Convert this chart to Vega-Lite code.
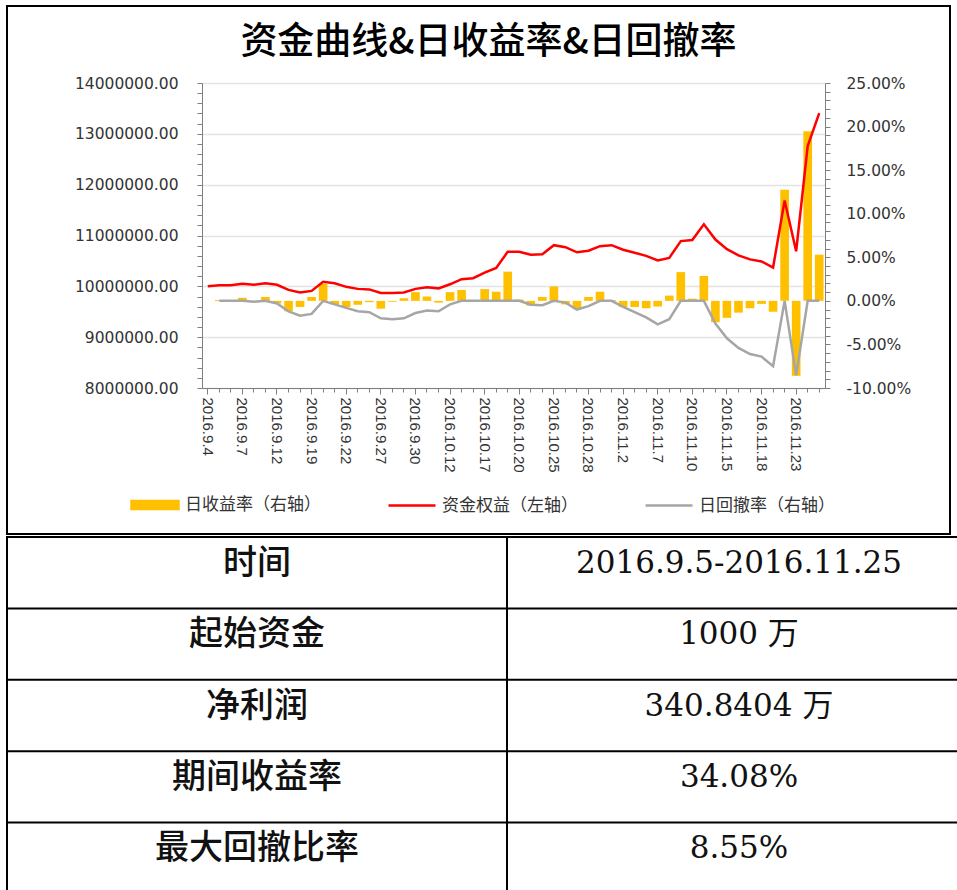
{
  "$schema": "https://vega.github.io/schema/vega-lite/v6.json",
  "padding": {"left": 5, "top": 5, "right": 0, "bottom": 0},
  "spacing": 0,
  "background": "white",
  "config": {"view": {"stroke": null}, "font": "Liberation Sans"},
  "vconcat": [
    {
      "width": 943,
      "height": 528,
      "view": {"stroke": "#000", "strokeWidth": 2},
      "title": {"text": "资金曲线&日收益率&日回撤率", "font": "Noto Sans CJK SC", "fontSize": 37, "fontWeight": 500, "color": "#000", "anchor": "middle", "frame": "group", "baseline": "middle", "offset": -74, "dx": 10},
      "data": {"values": [
        {"date": "2016.9.4", "equity": 10000000, "ret": null, "dd": null},
        {"date": "2016.9.5", "equity": 10020000, "ret": 0.10, "dd": 0},
        {"date": "2016.9.6", "equity": 10020000, "ret": 0.05, "dd": 0},
        {"date": "2016.9.7", "equity": 10050000, "ret": 0.35, "dd": 0},
        {"date": "2016.9.8", "equity": 10030000, "ret": -0.10, "dd": -0.1},
        {"date": "2016.9.9", "equity": 10060000, "ret": 0.45, "dd": 0},
        {"date": "2016.9.12", "equity": 10030000, "ret": -0.30, "dd": -0.3},
        {"date": "2016.9.13", "equity": 9930000, "ret": -1.20, "dd": -1.2},
        {"date": "2016.9.14", "equity": 9880000, "ret": -0.70, "dd": -1.7},
        {"date": "2016.9.19", "equity": 9910000, "ret": 0.45, "dd": -1.5},
        {"date": "2016.9.20", "equity": 10090000, "ret": 1.95, "dd": 0},
        {"date": "2016.9.21", "equity": 10060000, "ret": -0.40, "dd": -0.4},
        {"date": "2016.9.22", "equity": 9990000, "ret": -0.70, "dd": -0.8},
        {"date": "2016.9.23", "equity": 9950000, "ret": -0.45, "dd": -1.2},
        {"date": "2016.9.26", "equity": 9940000, "ret": -0.15, "dd": -1.3},
        {"date": "2016.9.27", "equity": 9870000, "ret": -0.90, "dd": -2.0},
        {"date": "2016.9.28", "equity": 9870000, "ret": -0.10, "dd": -2.1},
        {"date": "2016.9.29", "equity": 9880000, "ret": 0.30, "dd": -2.0},
        {"date": "2016.9.30", "equity": 9950000, "ret": 1.00, "dd": -1.4},
        {"date": "2016.10.10", "equity": 9980000, "ret": 0.50, "dd": -1.1},
        {"date": "2016.10.11", "equity": 9960000, "ret": -0.20, "dd": -1.2},
        {"date": "2016.10.12", "equity": 10040000, "ret": 1.00, "dd": -0.4},
        {"date": "2016.10.13", "equity": 10140000, "ret": 1.25, "dd": 0},
        {"date": "2016.10.14", "equity": 10160000, "ret": 0.05, "dd": 0},
        {"date": "2016.10.17", "equity": 10270000, "ret": 1.35, "dd": 0},
        {"date": "2016.10.18", "equity": 10360000, "ret": 1.05, "dd": 0},
        {"date": "2016.10.19", "equity": 10680000, "ret": 3.35, "dd": 0},
        {"date": "2016.10.20", "equity": 10680000, "ret": 0.15, "dd": 0},
        {"date": "2016.10.21", "equity": 10620000, "ret": -0.55, "dd": -0.45},
        {"date": "2016.10.24", "equity": 10630000, "ret": 0.45, "dd": -0.5},
        {"date": "2016.10.25", "equity": 10810000, "ret": 1.65, "dd": 0},
        {"date": "2016.10.26", "equity": 10770000, "ret": -0.40, "dd": -0.2},
        {"date": "2016.10.27", "equity": 10670000, "ret": -0.95, "dd": -1.0},
        {"date": "2016.10.28", "equity": 10700000, "ret": 0.45, "dd": -0.6},
        {"date": "2016.10.31", "equity": 10790000, "ret": 1.05, "dd": 0},
        {"date": "2016.11.1", "equity": 10810000, "ret": 0.10, "dd": 0},
        {"date": "2016.11.2", "equity": 10720000, "ret": -0.70, "dd": -0.7},
        {"date": "2016.11.3", "equity": 10660000, "ret": -0.70, "dd": -1.3},
        {"date": "2016.11.4", "equity": 10600000, "ret": -0.85, "dd": -1.9},
        {"date": "2016.11.7", "equity": 10510000, "ret": -0.65, "dd": -2.7},
        {"date": "2016.11.8", "equity": 10560000, "ret": 0.60, "dd": -2.1},
        {"date": "2016.11.9", "equity": 10890000, "ret": 3.30, "dd": 0},
        {"date": "2016.11.10", "equity": 10910000, "ret": 0.25, "dd": 0},
        {"date": "2016.11.11", "equity": 11220000, "ret": 2.85, "dd": 0},
        {"date": "2016.11.14", "equity": 10920000, "ret": -2.45, "dd": -2.6},
        {"date": "2016.11.15", "equity": 10730000, "ret": -1.95, "dd": -4.3},
        {"date": "2016.11.16", "equity": 10610000, "ret": -1.35, "dd": -5.4},
        {"date": "2016.11.17", "equity": 10530000, "ret": -0.85, "dd": -6.1},
        {"date": "2016.11.18", "equity": 10490000, "ret": -0.35, "dd": -6.4},
        {"date": "2016.11.21", "equity": 10370000, "ret": -1.25, "dd": -7.5},
        {"date": "2016.11.22", "equity": 11690000, "ret": 12.75, "dd": 0},
        {"date": "2016.11.23", "equity": 10690000, "ret": -8.60, "dd": -8.55},
        {"date": "2016.11.24", "equity": 12760000, "ret": 19.45, "dd": 0},
        {"date": "2016.11.25", "equity": 13408404, "ret": 5.30, "dd": 0}
      ]},
      "encoding": {
        "x": {
          "field": "date", "type": "ordinal", "sort": null,
          "scale": {
            "domain": ["2016.9.4","2016.9.5","2016.9.6","2016.9.7","2016.9.8","2016.9.9","2016.9.12","2016.9.13","2016.9.14","2016.9.19","2016.9.20","2016.9.21","2016.9.22","2016.9.23","2016.9.26","2016.9.27","2016.9.28","2016.9.29","2016.9.30","2016.10.10","2016.10.11","2016.10.12","2016.10.13","2016.10.14","2016.10.17","2016.10.18","2016.10.19","2016.10.20","2016.10.21","2016.10.24","2016.10.25","2016.10.26","2016.10.27","2016.10.28","2016.10.31","2016.11.1","2016.11.2","2016.11.3","2016.11.4","2016.11.7","2016.11.8","2016.11.9","2016.11.10","2016.11.11","2016.11.14","2016.11.15","2016.11.16","2016.11.17","2016.11.18","2016.11.21","2016.11.22","2016.11.23","2016.11.24","2016.11.25"],
            "range": [195, 818], "paddingInner": 0.25, "paddingOuter": 0.125
          },
          "axis": {
            "orient": "bottom", "offset": -146, "title": null, "grid": false,
            "labelAngle": 90, "labelPadding": 3, "labelOverlap": false, "labelBound": false,
            "labelFont": "Liberation Sans", "labelFontSize": 15, "labelColor": "#333",
            "labelExpr": "indexof(['2016.9.4','2016.9.7','2016.9.12','2016.9.19','2016.9.22','2016.9.27','2016.9.30','2016.10.12','2016.10.17','2016.10.20','2016.10.25','2016.10.28','2016.11.2','2016.11.7','2016.11.10','2016.11.15','2016.11.18','2016.11.23'], datum.value) >= 0 ? datum.value : ''",
            "tickSize": {"condition": {"test": "indexof(['2016.9.4','2016.9.7','2016.9.12','2016.9.19','2016.9.22','2016.9.27','2016.9.30','2016.10.12','2016.10.17','2016.10.20','2016.10.25','2016.10.28','2016.11.2','2016.11.7','2016.11.10','2016.11.15','2016.11.18','2016.11.23'], datum.value) >= 0", "value": 6}, "value": 4},
            "tickColor": "#7f7f7f", "domainColor": "#7f7f7f"
          }
        }
      },
      "layer": [
        {
          "layer": [
            {
              "mark": {"type": "bar"},
              "encoding": {
                "y": {
                  "field": "ret", "type": "quantitative",
                  "scale": {"domain": [-10, 25], "range": [382, 77], "nice": false, "zero": false},
                  "axis": {
                    "orient": "right", "offset": -125, "title": null, "grid": false,
                    "values": [-10,-9,-8,-7,-6,-5,-4,-3,-2,-1,0,1,2,3,4,5,6,7,8,9,10,11,12,13,14,15,16,17,18,19,20,21,22,23,24,25],
                    "labelExpr": "datum.value % 5 === 0 ? (datum.value < 0 ? '-' : '') + format(abs(datum.value), '.2f') + '%' : ''",
                    "labelOverlap": false, "labelFlush": false, "labelPadding": 16,
                    "labelFont": "DejaVu Sans", "labelFontSize": 15.5, "labelColor": "#333",
                    "tickSize": 5, "tickColor": "#7f7f7f", "domainColor": "#7f7f7f"
                  }
                },
                "color": {
                  "datum": "日收益率（右轴）",
                  "scale": {"domain": ["日收益率（右轴）", "资金权益（左轴）", "日回撤率（右轴）"], "range": ["#FFC000", "#FF0000", "#A6A6A6"]},
                  "legend": {
                    "orient": "none", "legendX": 123, "legendY": 474, "direction": "horizontal", "title": null,
                    "labelFont": "Noto Sans CJK SC", "labelFontSize": 17, "labelColor": "#333",
                    "symbolSize": 2209, "columnPadding": 62, "labelOffset": 5,
                    "encode": {"symbols": {"update": {
                      "shape": {"signal": "datum.value === '日收益率（右轴）' ? 'M-1,-0.17L1,-0.17L1,0.17L-1,0.17Z' : 'M-1,0L1,0'"},
                      "fill": {"signal": "datum.value === '日收益率（右轴）' ? '#FFC000' : 'transparent'"},
                      "stroke": {"signal": "datum.value === '资金权益（左轴）' ? '#FF0000' : (datum.value === '日回撤率（右轴）' ? '#A6A6A6' : 'transparent')"},
                      "strokeWidth": {"value": 2.5},
                      "opacity": {"value": 1}
                    }}}
                  }
                }
              }
            },
            {
              "mark": {"type": "line", "strokeWidth": 2.5},
              "encoding": {
                "y": {
                  "field": "dd", "type": "quantitative",
                  "scale": {"domain": [-10, 25], "range": [382, 77], "nice": false, "zero": false},
                  "axis": {
                    "orient": "right", "offset": -125, "title": null, "grid": false,
                    "values": [-10,-9,-8,-7,-6,-5,-4,-3,-2,-1,0,1,2,3,4,5,6,7,8,9,10,11,12,13,14,15,16,17,18,19,20,21,22,23,24,25],
                    "labelExpr": "datum.value % 5 === 0 ? (datum.value < 0 ? '-' : '') + format(abs(datum.value), '.2f') + '%' : ''",
                    "labelOverlap": false, "labelFlush": false, "labelPadding": 16,
                    "labelFont": "DejaVu Sans", "labelFontSize": 15.5, "labelColor": "#333",
                    "tickSize": 5, "tickColor": "#7f7f7f", "domainColor": "#7f7f7f"
                  }
                },
                "color": {"datum": "日回撤率（右轴）"}
              }
            }
          ]
        },
        {
          "mark": {"type": "line", "strokeWidth": 2.5},
          "encoding": {
            "y": {
              "field": "equity", "type": "quantitative",
              "scale": {"domain": [8000000, 14000000], "range": [382, 77], "nice": false, "zero": false},
              "axis": {
                "orient": "left", "offset": -195, "title": null,
                "values": [8000000,8200000,8400000,8600000,8800000,9000000,9200000,9400000,9600000,9800000,10000000,10200000,10400000,10600000,10800000,11000000,11200000,11400000,11600000,11800000,12000000,12200000,12400000,12600000,12800000,13000000,13200000,13400000,13600000,13800000,14000000],
                "labelExpr": "datum.value % 1000000 === 0 ? format(datum.value, '.2f') : ''",
                "labelOverlap": false, "labelFlush": false, "labelPadding": 19,
                "labelFont": "DejaVu Sans", "labelFontSize": 15.5, "labelColor": "#333",
                "grid": true, "gridColor": "#e3e3e3", "gridWidth": 1.5,
                "gridOpacity": {"condition": {"test": "datum.value % 1000000 === 0", "value": 1}, "value": 0},
                "tickSize": 5, "tickColor": "#7f7f7f", "domainColor": "#7f7f7f"
              }
            },
            "color": {"datum": "资金权益（左轴）"}
          }
        }
      ],
      "resolve": {"scale": {"y": "independent"}}
    },
    {
      "width": 952,
      "height": 357,
      "view": {"stroke": "#000", "strokeWidth": 2},
      "data": {"values": [
        {"item": "时间", "value": "2016.9.5-2016.11.25"},
        {"item": "起始资金", "value": "1000 万"},
        {"item": "净利润", "value": "340.8404 万"},
        {"item": "期间收益率", "value": "34.08%"},
        {"item": "最大回撤比率", "value": "8.55%"}
      ]},
      "layer": [
        {
          "mark": {"type": "rule", "color": "#000", "strokeWidth": 2},
          "encoding": {"y": {"field": "item", "type": "nominal", "sort": null, "bandPosition": 0, "scale": {"paddingInner": 0, "paddingOuter": 0}, "axis": null}}
        },
        {
          "mark": {"type": "rule", "color": "#000", "strokeWidth": 1.5},
          "encoding": {"x": {"datum": "数值", "type": "nominal", "bandPosition": 0, "scale": {"domain": ["项目", "数值"], "range": [0, 1000], "paddingInner": 0, "paddingOuter": 0}, "axis": null}}
        },
        {
          "mark": {"type": "text", "font": "Noto Sans CJK SC", "fontSize": 34, "fontWeight": 500, "color": "#111", "dy": -9},
          "encoding": {
            "x": {"datum": "项目", "type": "nominal"},
            "y": {"field": "item", "type": "nominal", "sort": null},
            "text": {"field": "item"}
          }
        },
        {
          "mark": {"type": "text", "font": "DejaVu Serif, Noto Sans CJK SC", "fontSize": 31, "color": "#111", "dy": -9, "dx": -18},
          "encoding": {
            "x": {"datum": "数值", "type": "nominal"},
            "y": {"field": "item", "type": "nominal", "sort": null},
            "text": {"field": "value"}
          }
        }
      ]
    }
  ]
}
